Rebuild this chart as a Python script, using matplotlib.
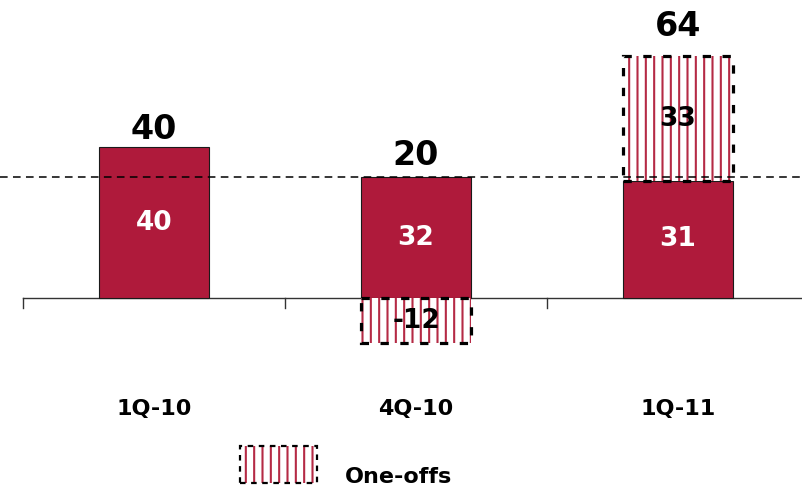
import matplotlib
matplotlib.use("Agg")
import matplotlib.pyplot as plt
from matplotlib.patches import Rectangle

# Quarterly result: core component plus one-off items
categories = ["1Q-10", "4Q-10", "1Q-11"]
core = [40, 32, 31]
one_offs = [0, -12, 33]
totals = [40, 20, 64]
reference_level = 32
legend_label = "One-offs"

BAR_RED = "#AF1A3B"
HATCH_RED = "#B52A45"

plt.rcParams["font.family"] = ["DejaVu Sans"]
plt.rcParams["hatch.linewidth"] = 1.5

W, H = 803, 488
fig = plt.figure(figsize=(W / 100, H / 100), dpi=100)
ax = fig.add_axes([0, 0, 1, 1])

# pixel geometry of the plotting frame
base_px, unit_px = 298, 3.775
left_px, step_px = 23, 262
ax.set_ylim((base_px - H) / unit_px, base_px / unit_px)
ax.set_xlim(-0.5 - left_px / step_px, -0.5 + (W - left_px) / step_px)
ax.axis("off")

x = list(range(len(categories)))
width = 0.42

# core bars
ax.bar(x, core, width=width, color=BAR_RED, edgecolor="#1a1a1a", linewidth=0.8, zorder=2)

# one-off segments: hatched fill, then dashed outline on top
for xi, c, o in zip(x, core, one_offs):
    if o == 0:
        continue
    bottom = c if o > 0 else 0
    ax.bar(xi, o, bottom=bottom, width=width, color="white", edgecolor=HATCH_RED,
           hatch="||", linewidth=0, zorder=2)
    ax.bar(xi, o, bottom=bottom, width=width, fill=False, edgecolor="black",
           linewidth=2.3, linestyle=(0, (2.6, 3.6)), zorder=3)

# baseline axis with category boundary ticks
ax.plot([-0.5, 3.0], [0, 0], color="#333333", linewidth=1.0, zorder=1, clip_on=False)
tick_len = 10 / unit_px
for b in [-0.5, 0.5, 1.5]:
    ax.plot([b, b], [0, -tick_len], color="#333333", linewidth=1.0, zorder=1)

# reference dashed line
ax.axhline(reference_level, color="black", linewidth=1.1, linestyle=(0, (5, 3.5)), zorder=4)

# segment labels
for xi, c, o in zip(x, core, one_offs):
    ax.text(xi, c / 2, f"{c}", ha="center", va="center", color="white",
            fontsize=19, fontweight="bold", zorder=5)
    if o != 0:
        mid = c + o / 2 if o > 0 else o / 2
        ax.text(xi, mid, f"{o}", ha="center", va="center", color="black",
                fontsize=19, fontweight="bold", zorder=5)

# totals above each stack (gap in points above the stack top)
total_gaps = [5.5, 8.5, 14.5]
for xi, c, o, t, gap in zip(x, core, one_offs, totals, total_gaps):
    top = max(c, c + o)
    ax.annotate(f"{t}", (xi, top), xytext=(0, gap), textcoords="offset points",
                ha="center", va="baseline", fontsize=24, fontweight="bold", zorder=5)

# category labels
for xi, cat in zip(x, categories):
    ax.text(xi, -31, cat, ha="center", va="baseline", fontsize=16, fontweight="bold")

# legend
lx, ly, lw, lh = 240, 446, 77, 37
box = (lx / W, 1 - (ly + lh) / H)
fig.add_artist(Rectangle(box, lw / W, lh / H, transform=fig.transFigure,
                         facecolor="white", edgecolor=HATCH_RED, hatch="||", linewidth=0))
fig.add_artist(Rectangle(box, lw / W, lh / H, transform=fig.transFigure, fill=False,
                         edgecolor="black", linewidth=1.6, linestyle=(0, (2.5, 2.5))))
fig.text(345 / W, 1 - 483 / H, legend_label, ha="left", va="baseline",
         fontsize=16, fontweight="bold")

fig.savefig("out.png", dpi=100)
